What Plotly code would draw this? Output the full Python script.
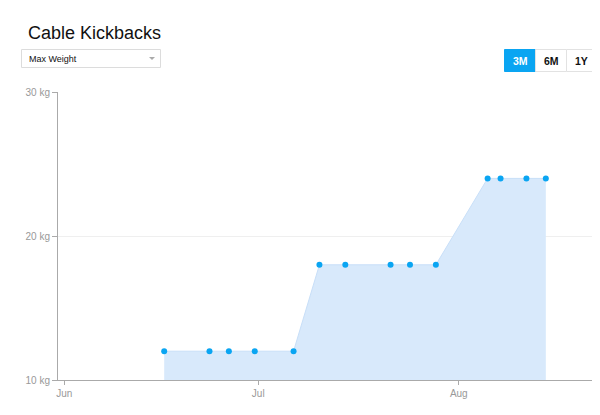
import plotly.graph_objects as go

# ---- data ----
dates = [
    "2017-06-16 11:00", "2017-06-23 11:00", "2017-06-26 11:00", "2017-06-30 11:00",
    "2017-07-06 11:00", "2017-07-10 11:00", "2017-07-14 11:00", "2017-07-21 11:00",
    "2017-07-24 11:00", "2017-07-28 11:00", "2017-08-05 11:00", "2017-08-07 11:00",
    "2017-08-11 11:00", "2017-08-14 11:00",
]
max_weight = [12, 12, 12, 12, 12, 18, 18, 18, 18, 18, 24, 24, 24, 24]
y_tickvals = [10, 20, 30]
y_ticktext = ["10 kg", "20 kg", "30 kg"]
title_text = "Cable Kickbacks"
dropdown_label = "Max Weight"
range_buttons = ["3M", "6M", "1Y", ""]
x_range = ["2017-05-31 01:00", "2017-08-22 20:00"]
y_range = [10, 30]

# ---- layout geometry (page pixels; page body has an 8px margin) ----
OFF = 8
W, H = 592, 399
L, T = 58 - OFF, 92 - OFF
B = H - (380 - OFF)
R = 0
PW, PH = W - L - R, H - T - B


def px(x):
    return (x - OFF - L) / PW


def py(y):
    return (H - B - (y - OFF)) / PH


fig = go.Figure()
fig.add_trace(go.Scatter(
    x=dates, y=max_weight, mode="lines+markers",
    fill="tozeroy", fillcolor="rgba(214,232,251,0.95)",
    line=dict(color="#C8DFF8", width=1),
    marker=dict(color="#0AA5F2", size=6),
    hoverinfo="x+y", showlegend=False,
))

shapes = []
annotations = []

# title
annotations.append(dict(
    text=title_text, xref="paper", yref="paper", x=px(26), y=py(33),
    xanchor="left", yanchor="middle", showarrow=False,
    font=dict(family="Liberation Sans, Arial, sans-serif", size=18, color="#111"),
))

# dropdown box
shapes.append(dict(type="rect", xref="paper", yref="paper",
                   x0=px(21.5), x1=px(160.5), y0=py(49.5), y1=py(67.5),
                   line=dict(color="#dcdcdc", width=1), fillcolor="white", layer="above"))
annotations.append(dict(
    text=dropdown_label, xref="paper", yref="paper", x=px(27), y=py(58.5),
    xanchor="left", yanchor="middle", showarrow=False,
    font=dict(family="Liberation Sans, Arial, sans-serif", size=9, color="#111"),
))
shapes.append(dict(type="path", xref="paper", yref="paper",
                   path="M {:.5f},{:.5f} L {:.5f},{:.5f} L {:.5f},{:.5f} Z".format(
                       px(149), py(57), px(155), py(57), px(152), py(60)),
                   fillcolor="#aaaaaa", line=dict(width=0), layer="above"))

# range buttons
bx = [504, 535, 566, 596, 627]
for i, lab in enumerate(range_buttons):
    active = i == 0
    shapes.append(dict(type="rect", xref="paper", yref="paper",
                       x0=px(bx[i] + 0.5), x1=px(bx[i + 1] + 0.5), y0=py(49.5), y1=py(71.5),
                       line=dict(color="#0AA5F2" if active else "#e2e2e2", width=1),
                       fillcolor="#0AA5F2" if active else "white", layer="above"))
    if lab:
        annotations.append(dict(
            text="<b>" + lab + "</b>", xref="paper", yref="paper",
            x=px((bx[i] + bx[i + 1]) / 2 + 0.5), y=py(60.5),
            xanchor="center", yanchor="middle", showarrow=False,
            font=dict(family="Liberation Sans, Arial, sans-serif", size=10.5,
                      color="white" if active else "#111"),
        ))

fig.update_layout(
    width=W, height=H,
    margin=dict(l=L, r=R, t=T, b=B, pad=0),
    paper_bgcolor="white", plot_bgcolor="white",
    font=dict(family="Liberation Sans, Arial, sans-serif", size=11, color="#999"),
    shapes=shapes, annotations=annotations,
    xaxis=dict(
        type="date", range=x_range, tick0="2017-06-01", dtick="M1",
        tickformat="%b", showgrid=False, zeroline=False,
        showline=True, linecolor="#aaaaaa", linewidth=1,
        ticks="outside", ticklen=4, tickcolor="#aaaaaa",
        tickfont=dict(size=10, color="#999"), fixedrange=True,
    ),
    yaxis=dict(
        range=y_range, tickmode="array", tickvals=y_tickvals, ticktext=y_ticktext,
        showgrid=True, gridcolor="#efefef", zeroline=False,
        showline=True, linecolor="#aaaaaa", linewidth=1,
        ticks="outside", ticklen=5, tickcolor="#aaaaaa",
        tickfont=dict(size=10, color="#999"), fixedrange=True,
    ),
)

fig.write_html("out.html", config={"displayModeBar": False})
